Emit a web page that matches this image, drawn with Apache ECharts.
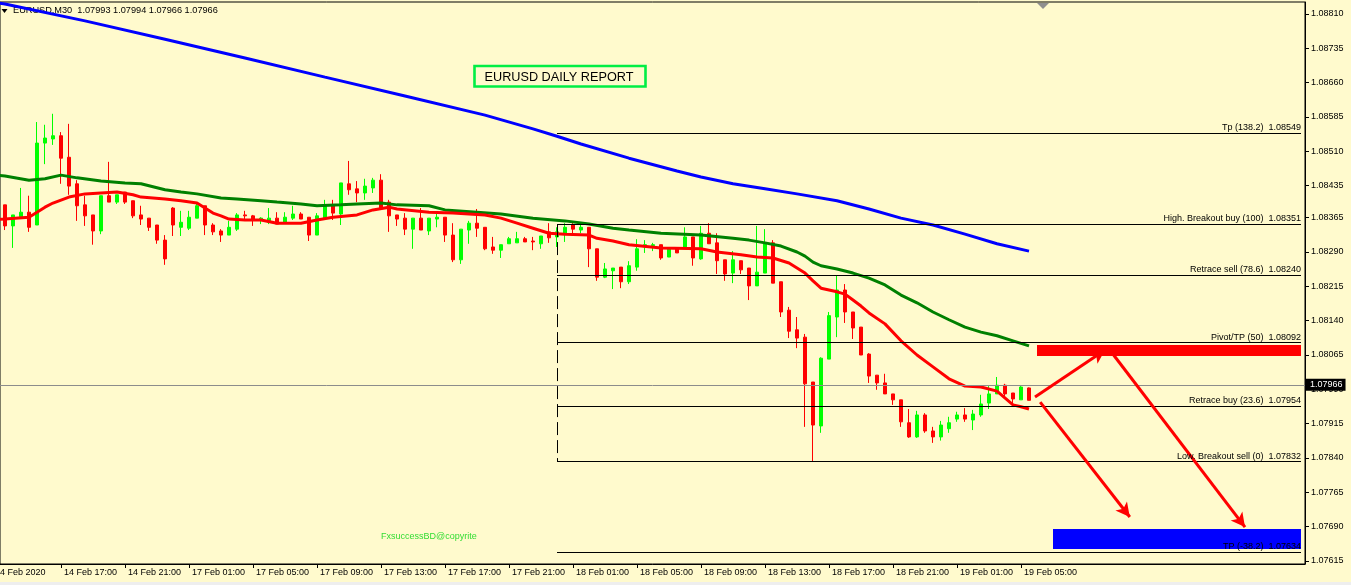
<!DOCTYPE html>
<html><head><meta charset="utf-8">
<script src="https://cdn.jsdelivr.net/npm/echarts@6/dist/echarts.min.js"></script>
<style>html,body{margin:0;padding:0;background:#FFFACD;overflow:hidden}#c{width:1351px;height:585px}</style>
</head><body><div id="c"></div>
<script>
const FONT = "'Liberation Sans', Arial, sans-serif";
const symbolName = 'EURUSD,M30';
const reportTitle = 'EURUSD DAILY REPORT';
const watermark = 'FxsuccessBD@copyrite';

// candles: [open, high, low, close], index 0 = 14 Feb 13:30, 30-minute bars
const candles = [
[1.08393,1.08393,1.08338,1.08347],[1.08347,1.08371,1.08299,1.08371],[1.08366,1.08430,1.08366,1.08377],[1.08377,1.08413,1.08334,1.08344],
[1.08349,1.08574,1.08349,1.08528],[1.08528,1.08568,1.08482,1.08539],[1.08537,1.08592,1.08524,1.08544],[1.08544,1.08552,1.08439,1.08495],
[1.08497,1.08570,1.08415,1.08434],[1.08439,1.08447,1.08358,1.08391],[1.08393,1.08413,1.08347,1.08369],[1.08371,1.08371,1.08306,1.08336],
[1.08336,1.08413,1.08329,1.08413],[1.08413,1.08487,1.08399,1.08399],[1.08399,1.08415,1.08395,1.08415],[1.08421,1.08421,1.08395,1.08399],
[1.08402,1.08402,1.08364,1.08369],[1.08371,1.08391,1.08349,1.08362],[1.08364,1.08364,1.08336,1.08344],[1.08349,1.08349,1.08308,1.08316],
[1.08316,1.08327,1.08262,1.08275],[1.08386,1.08388,1.08325,1.08349],[1.08344,1.08380,1.08325,1.08355],[1.08342,1.08380,1.08338,1.08366],
[1.08364,1.08399,1.08364,1.08391],[1.08391,1.08391,1.08327,1.08349],[1.08349,1.08353,1.08327,1.08334],[1.08336,1.08340,1.08312,1.08327],
[1.08327,1.08358,1.08327,1.08344],[1.08340,1.08375,1.08336,1.08371],[1.08371,1.08380,1.08362,1.08369],[1.08369,1.08371,1.08347,1.08360],
[1.08360,1.08366,1.08351,1.08364],[1.08355,1.08386,1.08351,1.08364],[1.08364,1.08377,1.08351,1.08351],[1.08355,1.08377,1.08355,1.08366],
[1.08364,1.08391,1.08360,1.08373],[1.08373,1.08377,1.08362,1.08362],[1.08366,1.08366,1.08314,1.08327],[1.08327,1.08375,1.08327,1.08369],
[1.08364,1.08404,1.08364,1.08391],[1.08391,1.08404,1.08360,1.08375],[1.08373,1.08441,1.08349,1.08441],[1.08439,1.08489,1.08415,1.08426],
[1.08428,1.08445,1.08399,1.08419],[1.08419,1.08450,1.08404,1.08434],[1.08430,1.08452,1.08419,1.08447],[1.08447,1.08460,1.08386,1.08386],
[1.08399,1.08404,1.08334,1.08369],[1.08371,1.08371,1.08347,1.08362],[1.08364,1.08375,1.08327,1.08340],[1.08340,1.08364,1.08297,1.08364],
[1.08364,1.08386,1.08338,1.08338],[1.08336,1.08364,1.08327,1.08364],[1.08362,1.08377,1.08344,1.08366],[1.08366,1.08366,1.08312,1.08327],
[1.08327,1.08353,1.08268,1.08273],[1.08273,1.08340,1.08264,1.08340],[1.08338,1.08358,1.08308,1.08353],[1.08353,1.08384,1.08323,1.08342],
[1.08344,1.08344,1.08294,1.08297],[1.08301,1.08323,1.08286,1.08294],[1.08294,1.08306,1.08277,1.08306],[1.08308,1.08323,1.08308,1.08319],
[1.08310,1.08334,1.08310,1.08319],[1.08319,1.08323,1.08312,1.08312],[1.08314,1.08323,1.08294,1.08312],[1.08308,1.08325,1.08297,1.08325],
[1.08334,1.08353,1.08310,1.08321],[1.08323,1.08344,1.08301,1.08334],[1.08329,1.08353,1.08312,1.08344],[1.08349,1.08353,1.08327,1.08340],
[1.08338,1.08353,1.08331,1.08344],[1.08344,1.08344,1.08257,1.08297],[1.08297,1.08297,1.08227,1.08235],[1.08235,1.08266,1.08233,1.08253],
[1.08249,1.08255,1.08209,1.08255],[1.08257,1.08257,1.08211,1.08225],[1.08225,1.08270,1.08220,1.08260],[1.08257,1.08318,1.08249,1.08297],
[1.08301,1.08316,1.08288,1.08306],[1.08304,1.08310,1.08292,1.08306],[1.08306,1.08306,1.08273,1.08277],[1.08279,1.08297,1.08279,1.08297],
[1.08297,1.08297,1.08288,1.08288],[1.08297,1.08344,1.08297,1.08323],[1.08323,1.08323,1.08260,1.08277],[1.08275,1.08347,1.08273,1.08331],
[1.08331,1.08353,1.08308,1.08308],[1.08310,1.08331,1.08242,1.08271],[1.08273,1.08273,1.08227,1.08242],[1.08244,1.08292,1.08222,1.08273],
[1.08271,1.08271,1.08242,1.08251],[1.08255,1.08255,1.08185,1.08216],[1.08216,1.08347,1.08216,1.08246],[1.08244,1.08340,1.08244,1.08310],
[1.08310,1.08316,1.08222,1.08222],[1.08225,1.08225,1.08148,1.08159],[1.08163,1.08170,1.08102,1.08117],[1.08120,1.08148,1.08080,1.08102],
[1.08104,1.08111,1.07908,1.08002],[1.08006,1.08006,1.07832,1.07912],[1.07910,1.08060,1.07895,1.08058],[1.08056,1.08159,1.08056,1.08151],
[1.08148,1.08238,1.08104,1.08207],[1.08207,1.08220,1.08135,1.08159],[1.08159,1.08159,1.08100,1.08124],[1.08126,1.08126,1.08065,1.08065],
[1.08067,1.08069,1.08004,1.08019],[1.08021,1.08021,1.07989,1.08004],[1.08004,1.08024,1.07980,1.07980],[1.07980,1.07980,1.07956,1.07967],
[1.07967,1.07967,1.07908,1.07919],[1.07917,1.07947,1.07884,1.07886],[1.07886,1.07943,1.07884,1.07934],[1.07934,1.07938,1.07895,1.07899],
[1.07899,1.07908,1.07873,1.07886],[1.07886,1.07921,1.07878,1.07912],[1.07904,1.07930,1.07895,1.07917],[1.07925,1.07941,1.07919,1.07934],
[1.07934,1.07949,1.07919,1.07925],[1.07923,1.07945,1.07901,1.07936],[1.07934,1.07978,1.07930,1.07958],[1.07960,1.07997,1.07947,1.07980],
[1.07980,1.08017,1.07980,1.07999],[1.07999,1.08002,1.07973,1.07980],[1.07982,1.07982,1.07960,1.07969],[1.07967,1.07997,1.07967,1.07995],
[1.07993,1.07994,1.07966,1.07966]
];

// moving averages: [bar index, price]
const maRed = [[-1,1.08361],[0,1.08362],[3,1.08366],[4,1.08377],[5,1.08388],[6,1.08397],[8,1.08410],[10,1.08417],[12,1.08419],[14,1.08421],[16,1.08415],[17,1.08410],[20,1.08406],[22,1.08402],[24,1.08397],[25,1.08386],[26,1.08375],[27,1.08369],[28,1.08362],[30,1.08360],[32,1.08360],[34,1.08353],[37,1.08353],[39,1.08360],[41,1.08366],[44,1.08371],[46,1.08382],[48,1.08388],[49,1.08384],[53,1.08377],[56,1.08375],[60,1.08371],[62,1.08364],[64,1.08353],[66,1.08342],[68,1.08331],[70,1.08329],[73,1.08327],[74,1.08320],[76,1.08314],[78,1.08306],[82,1.08299],[87,1.08297],[89,1.08290],[92,1.08284],[94,1.08279],[96,1.08277],[98,1.08266],[99,1.08255],[100,1.08244],[101,1.08227],[102,1.08211],[104,1.08203],[105,1.08198],[106,1.08185],[107,1.08172],[108,1.08157],[110,1.08133],[112,1.08096],[114,1.08065],[116,1.08039],[118,1.08013],[120,1.07997],[122,1.07995],[124,1.07986],[126,1.07956],[127,1.07952],[128,1.07947]];
const maGreen = [[-1,1.08458],[0,1.08456],[3,1.08447],[5,1.08450],[7,1.08458],[9,1.08452],[12,1.08445],[15,1.08441],[17,1.08439],[20,1.08426],[22,1.08421],[24,1.08417],[27,1.08408],[29,1.08406],[32,1.08402],[34,1.08399],[37,1.08395],[39,1.08391],[42,1.08393],[44,1.08395],[47,1.08397],[49,1.08393],[53,1.08391],[55,1.08382],[59,1.08377],[62,1.08373],[66,1.08364],[70,1.08358],[73,1.08351],[76,1.08342],[78,1.08338],[82,1.08331],[87,1.08327],[91,1.08320],[93,1.08316],[95,1.08310],[97,1.08303],[99,1.08290],[100,1.08281],[101,1.08268],[102,1.08260],[104,1.08253],[106,1.08244],[108,1.08233],[110,1.08218],[112,1.08196],[114,1.08179],[116,1.08159],[118,1.08142],[120,1.08126],[122,1.08115],[124,1.08107],[126,1.08096],[128,1.08085]];
const maBlue = [[-1,1.08834],[0,1.08832],[10,1.08795],[20,1.08755],[30,1.08714],[40,1.08672],[50,1.08631],[60,1.08589],[66,1.08559],[69,1.08543],[72,1.08526],[78,1.08495],[84,1.08467],[87,1.08454],[91,1.08439],[95,1.08428],[99,1.08417],[104,1.08402],[108,1.08384],[112,1.08364],[116,1.08349],[120,1.08329],[124,1.08308],[128,1.08292]];

// axes
const xTickIdx = [-0.625,7,15,23,31,39,47,55,63,71,79,87,95,103,111,119,127];
const xTickLabels = ['14 Feb 2020','14 Feb 17:00','14 Feb 21:00','17 Feb 01:00','17 Feb 05:00','17 Feb 09:00','17 Feb 13:00','17 Feb 17:00','17 Feb 21:00','18 Feb 01:00','18 Feb 05:00','18 Feb 09:00','18 Feb 13:00','18 Feb 17:00','18 Feb 21:00','19 Feb 01:00','19 Feb 05:00'];
const yTicks = [1.08810,1.08735,1.08660,1.08585,1.08510,1.08435,1.08365,1.08290,1.08215,1.08140,1.08065,1.07990,1.07915,1.07840,1.07765,1.07690,1.07615];
const xRange = [-0.625, 162.5];
const yRange = [1.076084, 1.088362];

// fibonacci levels
const fibNames = ['Tp (138.2)','High. Breakout buy (100)','Retrace sell (78.6)','Pivot/TP (50)','Retrace buy (23.6)','Low. Breakout sell (0)','TP (-38.2)'];
const fibValues = [1.08549,1.08351,1.08240,1.08092,1.07954,1.07832,1.07634];
const fibFromBar = 69, fibToBar = 162;

// zones [fromBar, toBar, top, bottom]
const zoneRed = [129, 162, 1.08087, 1.08063];
const zoneBlue = [131, 162, 1.07685, 1.07641];

// arrows [bar, price] -> [bar, price]
const arrowFrom = [[128.75,1.07973],[129.4,1.07962],[138.1,1.08076]];
const arrowTo = [[137.5,1.08076],[140.6,1.07711],[155,1.07689]];

const last = candles[candles.length - 1];
const lastClose = last[3];
const header = symbolName + '  ' + last.map(v => v.toFixed(5)).join(' ');

const candleData = candles.map((c, i) => [i, c[0], c[3], c[2], c[1]]);

const chart = echarts.init(document.getElementById('c'), null, {renderer: 'canvas'});
const txt = {fontFamily: FONT, fontSize: 9, color: '#000'};

const fibLines = fibValues.map((v, k) => [
  {coord: [fibFromBar, v], name: fibNames[k] + '  ' + v.toFixed(5)},
  {coord: [fibToBar, v]}
]);
const arrowLines = arrowFrom.map((a, k) => [
  {coord: a, symbol: 'none'},
  {coord: arrowTo[k], symbol: 'arrow', symbolSize: [11, 14]}
]);

chart.setOption({
  animation: false,
  backgroundColor: '#FFFACD',
  grid: {left: 0, right: 46, top: 2, bottom: 21, show: true, borderColor: '#000', borderWidth: 1, backgroundColor: 'transparent', containLabel: false, outerBoundsMode: 'none'},
  xAxis: {
    type: 'value', min: xRange[0], max: xRange[1],
    axisLine: {show: true, onZero: false, lineStyle: {color: '#000', width: 1}},
    axisTick: {show: true, customValues: xTickIdx.slice(1), length: 4, lineStyle: {color: '#000'}},
    axisLabel: {customValues: xTickIdx, align: 'left', margin: 4, padding: [0, 0, 0, 3], ...txt,
      formatter: (v) => { let best = 0; xTickIdx.forEach((t, k) => { if (Math.abs(t - v) < Math.abs(xTickIdx[best] - v)) best = k; }); return best === 0 ? '{cut|' + xTickLabels[0] + '}' : xTickLabels[best]; },
      rich: {cut: {fontFamily: FONT, fontSize: 9, color: '#000', padding: [0, 0, 0, -8]}}},
    splitLine: {show: false}
  },
  yAxis: {
    type: 'value', position: 'right', min: yRange[0], max: yRange[1],
    axisLine: {show: true, onZero: false, lineStyle: {color: '#000', width: 1}},
    axisTick: {show: true, customValues: yTicks, length: 4, lineStyle: {color: '#000'}},
    axisLabel: {customValues: yTicks, margin: 6, ...txt, formatter: (v) => v.toFixed(5)},
    splitLine: {show: false}
  },
  graphic: [
    {type: 'rect', shape: {x: 0, y: 582, width: 1351, height: 3}, style: {fill: '#EEEEEE'}, z: 0},
    {type: 'polygon', shape: {points: [[1.5, 9], [7.5, 9], [4.5, 13]]}, style: {fill: '#000'}, z: 0},
    {type: 'text', x: 13, y: 10.5, style: {text: header, fontFamily: FONT, fontSize: 9.2, fill: '#000', verticalAlign: 'middle'}, z: 0},
    {type: 'polygon', shape: {points: [[1037, 3], [1049, 3], [1043, 9]]}, style: {fill: '#8F8F8F'}, z: 0},
    {type: 'rect', shape: {x: 474.5, y: 66, width: 171, height: 20.5}, style: {fill: 'none', stroke: '#00EE44', lineWidth: 2.6}, z: 0},
    {type: 'text', x: 559, y: 77, style: {text: reportTitle, fontFamily: FONT, fontSize: 12.7, fill: '#000', align: 'center', verticalAlign: 'middle'}, z: 0},
    {type: 'text', x: 381, y: 537, style: {text: watermark, fontFamily: FONT, fontSize: 9, fill: '#33DD33', verticalAlign: 'middle'}, z: 0}
  ],
  series: [
    {
      type: 'line', data: [], z: 1, silent: true,
      markLine: {
        silent: true, symbol: 'none', animation: false,
        data: [{yAxis: lastClose}],
        lineStyle: {color: '#8C8C8C', width: 1, type: 'solid'},
        label: {show: true, position: 'end', distance: 1, formatter: (p) => lastClose.toFixed(5),
          backgroundColor: '#000', color: '#fff', fontFamily: FONT, fontSize: 9, padding: [2, 3, 1, 4]}
      }
    },
    {
      type: 'candlestick', data: candleData, z: 2, silent: true,
      encode: {x: 0, y: [1, 2, 3, 4]},
      barWidth: 4,
      itemStyle: {color: '#00FF00', color0: '#FF0000', borderColor: '#00FF00', borderColor0: '#FF0000', borderWidth: 1}
    },
    {type: 'line', data: maBlue, z: 4, showSymbol: false, silent: true, lineStyle: {color: '#0000FF', width: 3}},
    {type: 'line', data: maGreen, z: 4, showSymbol: false, silent: true, lineStyle: {color: '#008000', width: 3}},
    {type: 'line', data: maRed, z: 4, showSymbol: false, silent: true, lineStyle: {color: '#FF0000', width: 3}},
    {
      type: 'line', data: [], z: 5, silent: true,
      markArea: {
        silent: true,
        data: [
          [{coord: [zoneRed[0], zoneRed[2]], itemStyle: {color: '#FF0000', opacity: 1}}, {coord: [zoneRed[1], zoneRed[3]]}],
          [{coord: [zoneBlue[0], zoneBlue[2]], itemStyle: {color: '#0000FF', opacity: 1}}, {coord: [zoneBlue[1], zoneBlue[3]]}]
        ]
      }
    },
    {
      type: 'line', data: [], z: 6, silent: true,
      markLine: {
        silent: true, symbol: 'none', animation: false,
        lineStyle: {color: '#000', width: 1, type: 'solid'},
        label: {show: true, position: 'insideEndTop', distance: [0, 1], formatter: '{b}', ...txt},
        data: fibLines.concat([
          [{coord: [fibFromBar, fibValues[1]], lineStyle: {type: [13, 5], color: '#000', width: 1}, label: {show: false}},
           {coord: [fibFromBar, fibValues[5]]}]
        ])
      }
    },
    {
      type: 'line', data: [], z: 7, silent: true,
      markLine: {
        silent: true, animation: false,
        lineStyle: {color: '#FF0000', width: 3, type: 'solid'},
        label: {show: false},
        data: arrowLines
      }
    }
  ]
});
</script>
</body></html>
